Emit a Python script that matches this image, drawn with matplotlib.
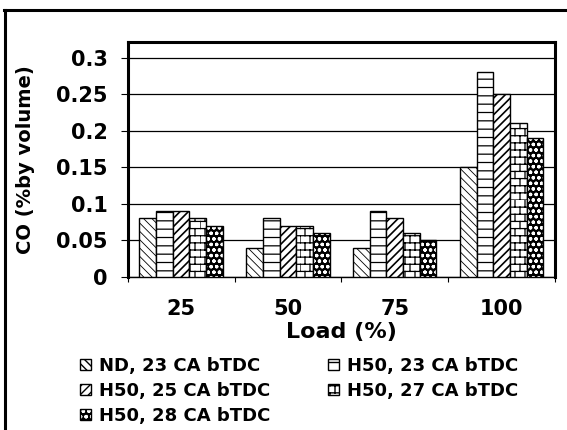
import warnings
import numpy as np
import matplotlib
matplotlib.use('Agg')
import matplotlib.pyplot as plt
import matplotlib.hatch as mhatch
from matplotlib.path import Path
from matplotlib.lines import Line2D
from matplotlib.legend_handler import HandlerTuple

warnings.filterwarnings('ignore')

# ---- data ----
loads = ['25', '50', '75', '100']
series_labels = ['ND, 23 CA bTDC', 'H50, 23 CA bTDC', 'H50, 25 CA bTDC',
                 'H50, 27 CA bTDC', 'H50, 28 CA bTDC']
nd_23 = [0.08, 0.04, 0.04, 0.15]
h50_23 = [0.09, 0.08, 0.09, 0.28]
h50_25 = [0.09, 0.07, 0.08, 0.25]
h50_27 = [0.08, 0.07, 0.06, 0.21]
h50_28 = [0.07, 0.06, 0.05, 0.19]
y_ticks = [0, 0.05, 0.1, 0.15, 0.2, 0.25, 0.3]
y_tick_labels = ['0', '0.05', '0.1', '0.15', '0.2', '0.25', '0.3']


# brick-wall hatch, selected with the letter 'B'
class BrickHatch(mhatch.HatchPatternBase):
    def __init__(self, hatch, density):
        n = hatch.count('B')
        self.rows = 14 * n
        self.cols = 10 * n
        self.num_vertices = 2 * self.rows + 2 * self.rows * self.cols

    def set_vertices_and_codes(self, vertices, codes):
        k = 0
        for r in range(self.rows):
            y0 = r / self.rows
            y1 = (r + 1) / self.rows
            vertices[k] = (0.0, y0)
            vertices[k + 1] = (1.0, y0)
            k += 2
            off = 0.5 if r % 2 else 0.0
            for c in range(self.cols):
                xv = (c + off) / self.cols
                vertices[k] = (xv, y0)
                vertices[k + 1] = (xv, y1)
                k += 2
        codes[0::2] = Path.MOVETO
        codes[1::2] = Path.LINETO


mhatch._hatch_types.append(BrickHatch)

plt.rcParams['font.family'] = ['DejaVu Sans']
plt.rcParams['font.weight'] = 'bold'

fig = plt.figure(figsize=(5.67, 4.30), dpi=100)
ax = fig.add_axes([0.2252, 0.3565, 0.7536, 0.5447])

x = np.arange(len(loads))
width = 0.156
offsets = (np.arange(5) - 2) * width

hatched = [
    (nd_23, '\\\\\\\\', 0.6),
    (h50_23, '--', 0.9),
    (h50_25, '////', 1.2),
    (h50_27, 'B', 0.9),
]

handles = []
for i, (vals, hatch, hlw) in enumerate(hatched):
    with plt.rc_context({'hatch.linewidth': hlw}):
        bc = ax.bar(x + offsets[i], vals, width, facecolor='white',
                    edgecolor='black', linewidth=1.0, hatch=hatch, zorder=3,
                    label=series_labels[i])
    for p in bc:
        if hasattr(p, 'set_hatch_linewidth'):
            p.set_hatch_linewidth(hlw)
    handles.append(bc)

# dark dotted series: black fill with small white dots, then a black outline
dot_lw = 0.9
with plt.rc_context({'hatch.linewidth': dot_lw}):
    fill5 = ax.bar(x + offsets[4], h50_28, width, facecolor='black',
                   edgecolor='white', linewidth=0, hatch='ooo', zorder=3)
for p in fill5:
    if hasattr(p, 'set_hatch_linewidth'):
        p.set_hatch_linewidth(dot_lw)
outline5 = ax.bar(x + offsets[4], h50_28, width, fill=False,
                  edgecolor='black', linewidth=1.0, zorder=4)
handles.append((fill5, outline5))

ax.set_xlim(-0.5, len(loads) - 0.5)
ax.set_ylim(0, 0.3208)

# y axis
ax.set_yticks(y_ticks)
ax.set_yticklabels(y_tick_labels)
ax.tick_params(axis='y', which='major', direction='out', length=5, width=0.8,
               pad=9.5, labelsize=15)
ax.yaxis.grid(True, color='black', linewidth=0.9)
ax.set_axisbelow(True)

# x axis: boundary ticks, labels at category centres
ax.set_xticks(np.arange(len(loads) + 1) - 0.5)
ax.set_xticklabels([])
ax.set_xticks(x, minor=True)
ax.set_xticklabels(loads, minor=True)
ax.tick_params(axis='x', which='major', direction='out', length=3.6, width=0.8)
ax.tick_params(axis='x', which='minor', length=0, pad=16, labelsize=15)

ax.set_xlabel('Load (%)', fontsize=16, fontweight='bold', va='center')
ax.xaxis.set_label_coords(0.5, -0.236)

for side in ('left', 'top', 'right'):
    ax.spines[side].set_linewidth(2.2)
ax.spines['bottom'].set_linewidth(1.0)

fig.text(26 / 567, 1 - 159.6 / 430, 'CO (%by volume)', rotation=90,
         ha='center', va='center', fontsize=14, fontweight='bold')

# legend laid out row by row in two columns
order = [0, 2, 4, 1, 3]
fig.legend([handles[i] for i in order], [series_labels[i] for i in order],
           ncol=2, loc='upper left', bbox_to_anchor=(80 / 567, 1 - 357 / 430),
           frameon=False, handlelength=0.6, handleheight=0.6,
           handletextpad=0.45, columnspacing=3.2, labelspacing=0.38,
           borderpad=0, borderaxespad=0,
           handler_map={tuple: HandlerTuple(ndivide=1)},
           prop={'weight': 'bold', 'size': 13})

# outer frame
fig.add_artist(Line2D([5 / 567, 5 / 567], [0, 1 - 9.5 / 430],
                      transform=fig.transFigure, color='black', linewidth=2.2))
fig.add_artist(Line2D([3.5 / 567, 1], [1 - 9.5 / 430, 1 - 9.5 / 430],
                      transform=fig.transFigure, color='black', linewidth=2.2))

fig.savefig('out.png', dpi=100)
